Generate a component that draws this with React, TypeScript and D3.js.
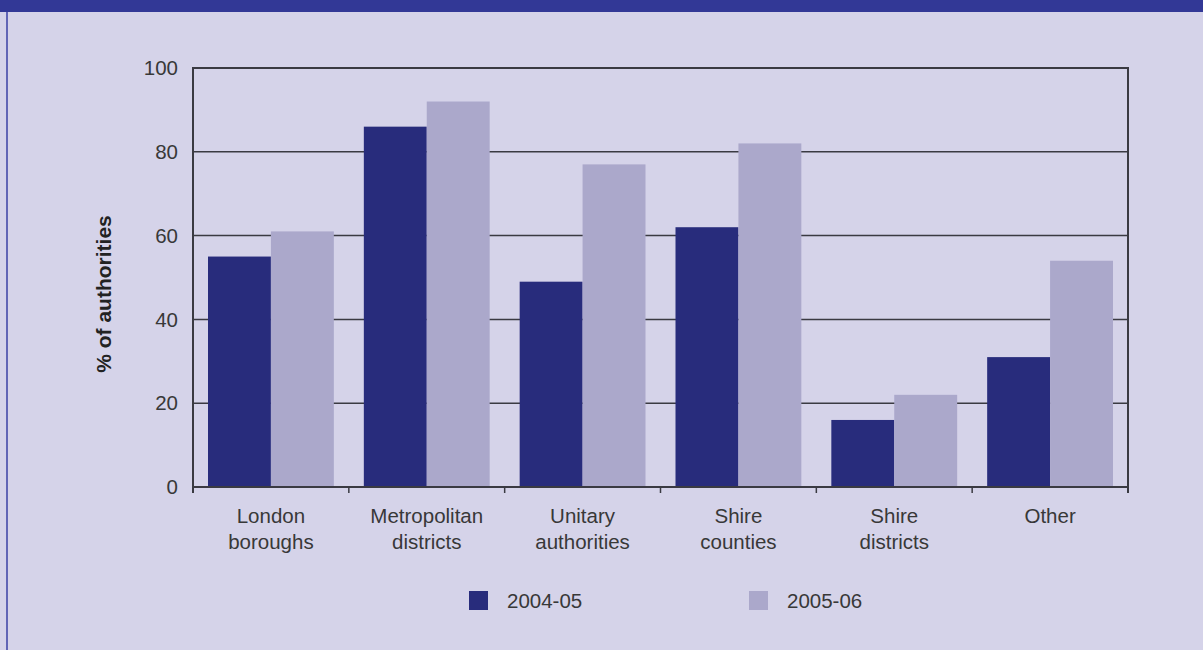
import React from "react";
import * as d3 from "d3";

const categories: string[][] = [
  ["London", "boroughs"],
  ["Metropolitan", "districts"],
  ["Unitary", "authorities"],
  ["Shire", "counties"],
  ["Shire", "districts"],
  ["Other"],
];
const seriesNames = ["2004-05", "2005-06"];
const values2004 = [55, 86, 49, 62, 16, 31];
const values2005 = [61, 92, 77, 82, 22, 54];
const yTicks = [0, 20, 40, 60, 80, 100];

const W = 1203;
const H = 650;
const margin = { left: 193, right: 1128, top: 68, bottom: 487 };
const colors = ["#282c7c", "#aba8cb"];
const bg = "#d5d3e9";
const axisColor = "#3a3a42";
const textColor = "#383838";
const font = "'Liberation Sans', Arial, Helvetica, sans-serif";
const fs = 20.5;

export default function App() {
  const x0 = d3
    .scaleBand<number>()
    .domain(categories.map((_, i) => i))
    .range([margin.left, margin.right])
    .paddingInner(0)
    .paddingOuter(0);
  const inner = 15;
  const x1 = d3
    .scaleBand<number>()
    .domain([0, 1])
    .range([inner, x0.bandwidth() - inner])
    .padding(0);
  const y = d3.scaleLinear().domain([0, 100]).range([margin.bottom, margin.top]);
  const series = [values2004, values2005];
  const boundaries = d3.range(categories.length + 1).map((i) =>
    i < categories.length ? (x0(i) as number) : margin.right
  );

  return (
    <svg
      width={W}
      height={H}
      style={{ position: "absolute", left: 0, top: 0, display: "block" }}
      fontFamily={font}
    >
      <rect x={0} y={0} width={W} height={H} fill={bg} />
      <rect x={0} y={0} width={W} height={12} fill="#323896" />
      <rect x={6} y={12} width={2} height={H - 12} fill="#6165b6" />

      {/* horizontal gridlines */}
      {yTicks.map((t) => (
        <line
          key={"g" + t}
          x1={margin.left}
          x2={margin.right}
          y1={y(t)}
          y2={y(t)}
          stroke={axisColor}
          strokeWidth={1.5}
        />
      ))}

      {/* bars */}
      {series.map((vals, s) =>
        vals.map((v, i) => (
          <rect
            key={`b${s}-${i}`}
            x={(x0(i) as number) + (x1(s) as number)}
            y={y(v)}
            width={x1.bandwidth()}
            height={y(0) - y(v)}
            fill={colors[s]}
          />
        ))
      )}

      {/* frame */}
      <line x1={margin.left} x2={margin.right} y1={margin.top} y2={margin.top} stroke={axisColor} strokeWidth={2} />
      <line x1={margin.left} x2={margin.left} y1={margin.top - 1} y2={margin.bottom + 6} stroke={axisColor} strokeWidth={2} />
      <line x1={margin.right} x2={margin.right} y1={margin.top - 1} y2={margin.bottom + 6} stroke={axisColor} strokeWidth={2} />
      <line x1={margin.left} x2={margin.right} y1={margin.bottom} y2={margin.bottom} stroke={axisColor} strokeWidth={2} />
      {boundaries.map((b, i) => (
        <line key={"t" + i} x1={b} x2={b} y1={margin.bottom} y2={margin.bottom + 6} stroke={axisColor} strokeWidth={1.5} />
      ))}

      {/* y tick labels */}
      {yTicks.map((t) => (
        <text
          key={"yl" + t}
          x={178}
          y={y(t)}
          dy="0.35em"
          textAnchor="end"
          fontSize={fs}
          fill={textColor}
        >
          {t}
        </text>
      ))}

      {/* y axis title */}
      <text
        transform={`translate(111,294) rotate(-90)`}
        textAnchor="middle"
        fontSize={21}
        fontWeight="bold"
        fill="#222"
      >
        % of authorities
      </text>

      {/* category labels */}
      {categories.map((lines, i) => (
        <text
          key={"c" + i}
          x={(x0(i) as number) + x0.bandwidth() / 2}
          y={523}
          textAnchor="middle"
          fontSize={fs}
          fill={textColor}
        >
          {lines.map((l, j) => (
            <tspan key={j} x={(x0(i) as number) + x0.bandwidth() / 2} dy={j === 0 ? 0 : 26}>
              {l}
            </tspan>
          ))}
        </text>
      ))}

      {/* legend */}
      {seriesNames.map((name, s) => {
        const lx = 469 + s * 280;
        return (
          <g key={"l" + s}>
            <rect x={lx} y={591} width={19} height={19} fill={colors[s]} />
            <text x={lx + 38} y={601} dy="0.35em" fontSize={fs} fill={textColor}>
              {name}
            </text>
          </g>
        );
      })}
    </svg>
  );
}
